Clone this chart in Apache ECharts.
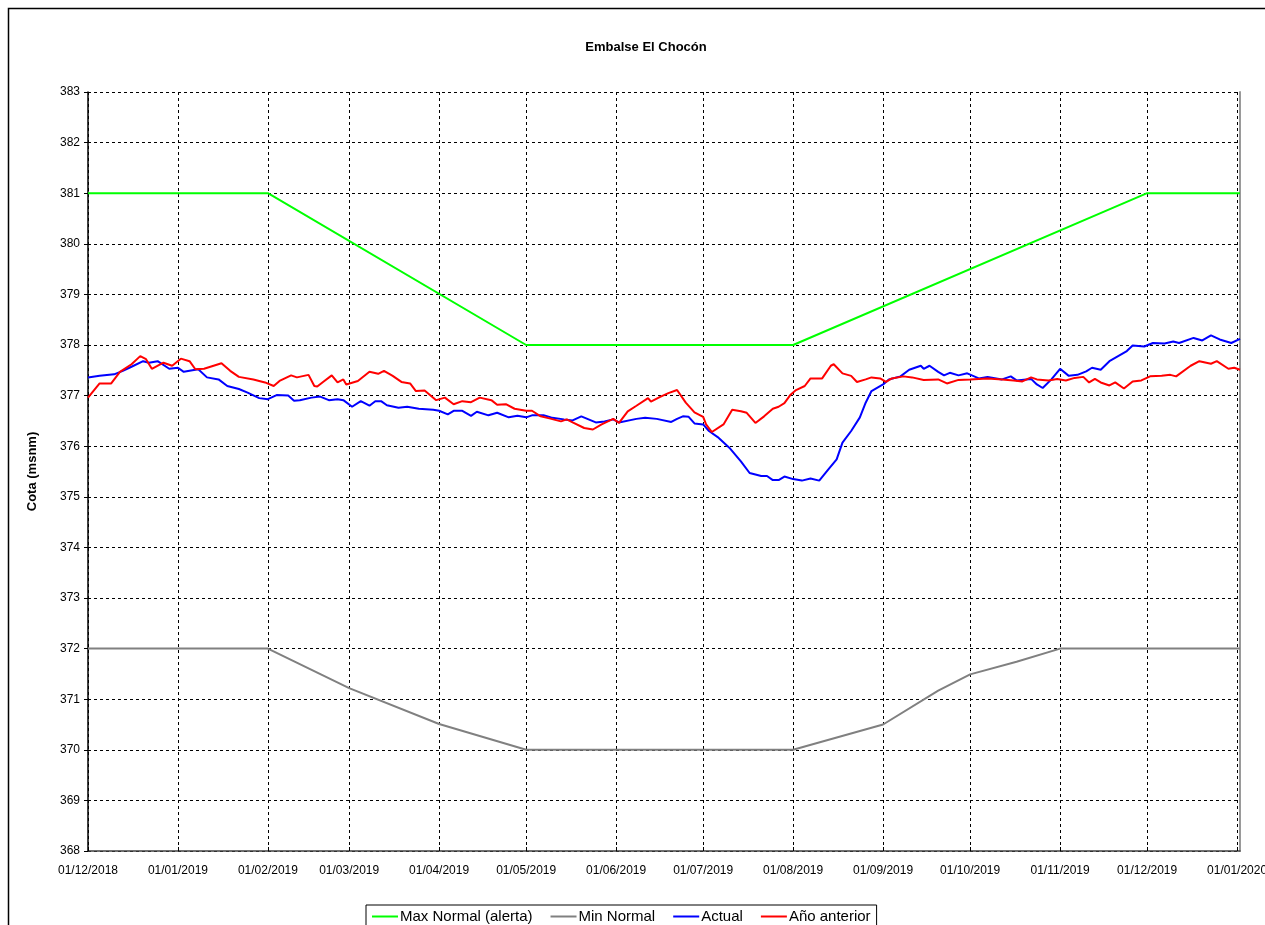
<!DOCTYPE html>
<html>
<head>
<meta charset="utf-8">
<script src="https://cdn.jsdelivr.net/npm/echarts@6/dist/echarts.min.js"></script>
<style>
html,body{margin:0;padding:0;background:#fff;overflow:hidden;}
#chart{width:1265px;height:925px;}
</style>
</head>
<body>
<div id="chart"></div>
<script>
// x values are days counted from 01/12/2018
const titleText = 'Embalse El Chocón';
const yAxisName = 'Cota (msnm)';
const seriesNames = ['Max Normal (alerta)', 'Min Normal', 'Actual', 'Año anterior'];
const monthTickDays = [0, 31, 62, 90, 121, 151, 182, 212, 243, 274, 304, 335, 365, 396];
const monthTickLabels = ['01/12/2018','01/01/2019','01/02/2019','01/03/2019','01/04/2019','01/05/2019',
  '01/06/2019','01/07/2019','01/08/2019','01/09/2019','01/10/2019','01/11/2019','01/12/2019','01/01/2020'];

const maxNormal = [[0,381],[62,381],[151,378],[243,378],[365,381],[397,381]];
const minNormal = [[0,372],[62,372],[90,371.22],[121,370.51],[151,370],[243,370],[274,370.5],
  [293,371.17],[304,371.49],[320,371.74],[335,372],[397,372]];

const actual = [[0,377.36],[4,377.39],[9,377.42],[12,377.49],[15,377.57],[19,377.68],[21,377.65],[24,377.68],
  [28,377.53],[31,377.55],[33,377.47],[38,377.52],[41,377.36],[45,377.32],[48,377.19],[52,377.13],[55,377.06],
  [59,376.95],[62,376.93],[65,377.01],[69,377.0],[71,376.9],[73,376.91],[77,376.96],[80,376.98],[83,376.91],
  [86,376.93],[88,376.91],[91,376.78],[94,376.89],[97,376.8],[99,376.89],[101,376.89],[103,376.81],[107,376.76],
  [110,376.78],[114,376.74],[119,376.72],[121,376.7],[124,376.63],[126,376.7],[129,376.7],[132,376.6],[134,376.68],
  [138,376.61],[141,376.66],[145,376.57],[148,376.6],[151,376.57],[153,376.61],[157,376.61],[159,376.58],
  [160,376.56],[164,376.53],[167,376.51],[170,376.59],[175,376.47],[178,376.49],[181,376.53],[183,376.47],
  [189,376.54],[192,376.56],[196,376.54],[201,376.48],[203,376.54],[205,376.59],[207,376.58],[209,376.45],
  [212,376.43],[214,376.3],[217,376.18],[221,375.97],[225,375.7],[228,375.47],[232,375.41],[234,375.41],
  [236,375.33],[238,375.33],[240,375.4],[243,375.35],[246,375.32],[249,375.36],[252,375.32],[255,375.53],
  [258,375.74],[260,376.07],[263,376.3],[266,376.57],[268,376.86],[270,377.09],[274,377.22],[276,377.32],
  [280,377.38],[283,377.51],[287,377.59],[288,377.53],[290,377.59],[293,377.47],[295,377.4],[297,377.45],
  [300,377.4],[303,377.44],[307,377.34],[310,377.37],[313,377.34],[315,377.32],[318,377.38],[320,377.3],
  [325,377.33],[327,377.22],[329,377.15],[332,377.32],[335,377.53],[338,377.39],[341,377.41],[344,377.48],
  [346,377.55],[349,377.51],[352,377.68],[355,377.78],[358,377.88],[360,377.99],[364,377.97],[367,378.04],
  [371,378.03],[374,378.07],[376,378.04],[381,378.14],[384,378.09],[387,378.19],[390,378.11],[394,378.04],
  [397,378.12]];

const previousYear = [[0,376.96],[4,377.24],[8,377.24],[11,377.47],[15,377.62],[18,377.78],[20,377.72],
  [22,377.53],[26,377.65],[29,377.59],[32,377.73],[35,377.68],[37,377.52],[40,377.53],[46,377.64],[49,377.49],
  [52,377.37],[57,377.32],[61,377.26],[64,377.19],[66,377.29],[70,377.4],[72,377.36],[76,377.41],[78,377.19],
  [79,377.18],[81,377.27],[84,377.4],[86,377.26],[88,377.32],[89,377.22],[93,377.29],[97,377.47],[100,377.43],
  [102,377.49],[105,377.39],[108,377.27],[111,377.24],[113,377.09],[116,377.1],[120,376.91],[123,376.96],
  [126,376.83],[129,376.89],[132,376.87],[135,376.96],[139,376.91],[141,376.82],[144,376.83],[147,376.74],
  [151,376.7],[153,376.7],[156,376.59],[159,376.55],[163,376.49],[165,376.53],[167,376.47],[171,376.36],
  [174,376.33],[177,376.43],[181,376.54],[183,376.46],[186,376.69],[189,376.8],[193,376.95],[194,376.88],
  [197,376.97],[200,377.05],[203,377.11],[206,376.86],[209,376.67],[212,376.58],[213,376.43],[215,376.28],
  [219,376.43],[222,376.72],[225,376.69],[227,376.66],[230,376.46],[233,376.59],[236,376.74],[238,376.78],
  [240,376.85],[242,377.01],[244,377.11],[247,377.19],[249,377.34],[253,377.34],[256,377.59],[257,377.62],
  [260,377.44],[263,377.39],[265,377.27],[268,377.32],[270,377.36],[273,377.34],[275,377.27],[277,377.34],
  [281,377.38],[284,377.36],[288,377.31],[293,377.32],[296,377.24],[300,377.31],[304,377.32],[310,377.34],
  [315,377.32],[319,377.3],[322,377.28],[325,377.36],[327,377.32],[331,377.3],[334,377.33],[337,377.3],
  [340,377.35],[343,377.37],[345,377.26],[347,377.33],[349,377.26],[352,377.2],[354,377.26],[357,377.14],
  [360,377.28],[363,377.3],[366,377.38],[370,377.39],[373,377.41],[375,377.38],[380,377.59],[383,377.68],
  [387,377.63],[389,377.68],[393,377.53],[395,377.55],[397,377.51]];

const colors = ['#00FF00', '#808080', '#0000FF', '#FF0000'];
const seriesData = [maxNormal, minNormal, actual, previousYear];
const FONT = '"Liberation Sans", Arial, sans-serif';

const chart = echarts.init(document.getElementById('chart'), null, {renderer: 'canvas'});
chart.setOption({
  animation: false,
  backgroundColor: '#ffffff',
  title: {
    text: titleText,
    left: 641, top: 36, textAlign: 'center',
    textStyle: {fontFamily: FONT, fontSize: 13, fontWeight: 'bold', color: '#000'}
  },
  graphic: [{
    type: 'rect', silent: true, z: 100,
    shape: {x: 8.5, y: 8.5, width: 1400, height: 1000},
    style: {fill: 'none', stroke: '#000', lineWidth: 1.5}
  }],
  legend: {
    left: 366, top: 905,
    padding: [4, 6, 8, 6],
    itemGap: 18, itemWidth: 26, itemHeight: 2,
    borderColor: '#000', borderWidth: 1,
    backgroundColor: '#fff',
    textStyle: {fontFamily: FONT, fontSize: 15, color: '#000', padding: [0, 0, 0, -3]},
    data: seriesNames.map(n => ({name: n, icon: 'rect'}))
  },
  grid: {left: 88, top: 92, width: 1152, height: 759, containLabel: false, outerBoundsMode: 'none'},
  xAxis: {
    type: 'value', min: 0, max: 397,
    axisLine: {show: true, lineStyle: {color: '#404040', width: 1.5}},
    axisTick: {show: true, inside: true, length: 4, customValues: monthTickDays, lineStyle: {color: '#000'}},
    axisLabel: {
      customValues: monthTickDays, margin: 14, hideOverlap: false,
      fontFamily: FONT, fontSize: 12, color: '#000',
      formatter: v => monthTickLabels[monthTickDays.indexOf(Math.round(v))] || ''
    },
    splitLine: {show: true, lineStyle: {color: '#000', type: [3, 3], width: 1}}
  },
  yAxis: [{
    type: 'value', min: 368, max: 383, interval: 1,
    name: yAxisName, nameLocation: 'middle', nameGap: 49, nameRotate: 90,
    nameTextStyle: {fontFamily: FONT, fontSize: 13, fontWeight: 'bold', color: '#000'},
    axisLine: {show: true, lineStyle: {color: '#000', width: 1.5}},
    axisTick: {show: true, inside: false, length: 4, lineStyle: {color: '#000'}},
    axisLabel: {margin: 8, fontFamily: FONT, fontSize: 12, color: '#000'},
    splitLine: {show: true, lineStyle: {color: '#000', type: [3, 3], width: 1}}
  }, {
    type: 'value', min: 368, max: 383, interval: 1, position: 'right',
    axisLine: {show: true, lineStyle: {color: '#9a9a9a', width: 2}},
    axisTick: {show: false}, axisLabel: {show: false}, splitLine: {show: false}
  }],
  series: seriesNames.map((name, i) => ({
    name: name, type: 'line', data: seriesData[i],
    showSymbol: false, symbol: 'none',
    lineStyle: {color: colors[i], width: 2},
    itemStyle: {color: colors[i]},
    z: 2 + i
  }))
});
</script>
</body>
</html>
